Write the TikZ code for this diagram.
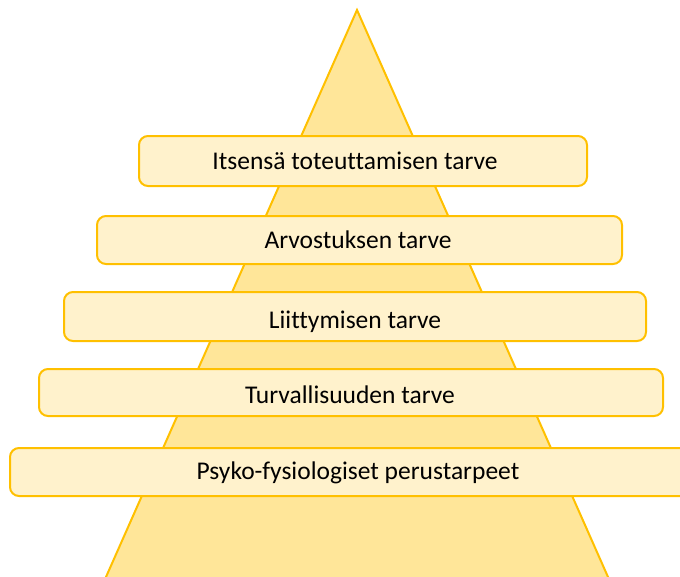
\documentclass[tikz,border=0pt]{standalone}
\usepackage{fontspec}
\setmainfont[Ligatures={NoCommon}]{Carlito}
\begin{document}
\begin{tikzpicture}[x=1pt,y=-1pt,
  level/.style={draw=gold, fill=lightgold, line width=2pt, rounded corners=9pt},
  lbl/.style={font=\fontsize{25.5}{30}\selectfont, text=black}]
\definecolor{gold}{HTML}{FFC000}
\definecolor{lightgold}{HTML}{FFF2CC}
\definecolor{trifill}{HTML}{FFE699}
\useasboundingbox (0,0) rectangle (680,576);
\begin{scope}
\clip (0,0) rectangle (680,576);
\draw[draw=gold, fill=trifill, line width=2pt, line join=miter] (357,10) -- (612,586) -- (102,586) -- cycle;
\draw[level] (139,136) rectangle (587,186);
\node[lbl] (l1) at (355,161) {Itsensä toteuttamisen tarve};
\draw[level] (97,216) rectangle (622,264);
\node[lbl] (l2) at (358,240) {Arvostuksen tarve};
\draw[level] (64,292) rectangle (646,341);
\node[lbl] (l3) at (355,322) {Liittymisen tarve};
\draw[level] (39,369) rectangle (663,416);
\node[lbl] (l4) at (350,395) {Turvallisuuden tarve};
\draw[level] (10,448) rectangle (700,496);
\node[lbl] (l5) at (358,473) {Psyko-fysiologiset perustarpeet};
\end{scope}
\end{tikzpicture}
\end{document}
